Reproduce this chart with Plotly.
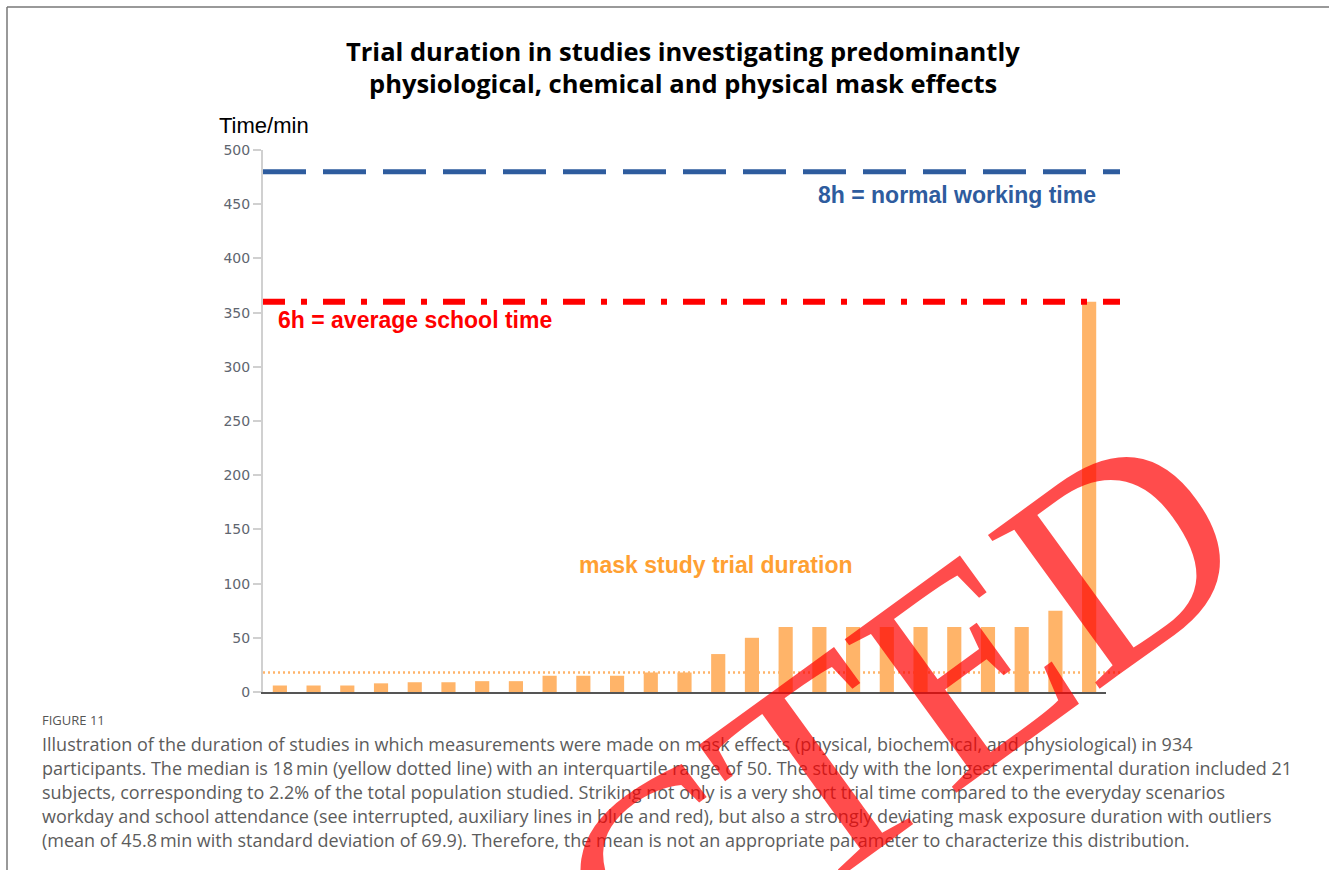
import numpy as np
import plotly.graph_objects as go

# Trial durations (minutes) of the individual studies, sorted ascending
studies = [f"S{i}" for i in range(1, 26)]
durations = [6, 6, 6, 8, 9, 9, 10, 10, 15, 15, 15, 18, 18, 35, 50,
             60, 60, 60, 60, 60, 60, 60, 60, 75, 360]

# Reference durations (minutes)
work_day = 8 * 60
school_day = 6 * 60
median_duration = float(np.median(durations))

title_lines = ["Trial duration in studies investigating predominantly",
               "physiological, chemical and physical mask effects"]
caption_head = "FIGURE 11"
caption_lines = [
    "Illustration of the duration of studies in which measurements were made on mask effects (physical, biochemical, and physiological) in 934",
    "participants. The median is 18\u2009min (yellow dotted line) with an interquartile range of 50. The study with the longest experimental duration included 21",
    "subjects, corresponding to 2.2% of the total population studied. Striking not only is a very short trial time compared to the everyday scenarios",
    "workday and school attendance (see interrupted, auxiliary lines in blue and red), but also a strongly deviating mask exposure duration with outliers",
    "(mean of 45.8\u2009min with standard deviation of 69.9). Therefore, the mean is not an appropriate parameter to characterize this distribution.",
]

FIG_W, FIG_H = 1329, 870
L, R, T, B = 263, 1106, 150, 692
PW, PH = R - L, B - T


def fx(px):
    return (px - L) / PW


def fy(py):
    return (B - py) / PH


BAR = "rgb(255,180,105)"
ORANGE_TXT = "rgb(255,160,50)"
BLUE = "rgb(46,92,158)"
RED = "rgb(255,0,0)"

fig = go.Figure()
fig.add_trace(go.Bar(x=studies, y=durations, marker=dict(color=BAR, line=dict(width=0)),
                     hoverinfo="x+y", showlegend=False))

shapes = [
    # 8h working day
    dict(type="line", xref="paper", yref="y", x0=0, x1=fx(1120), y0=work_day, y1=work_day,
         line=dict(color=BLUE, width=5, dash="43px,17px"), layer="above"),
    # 6h school day
    dict(type="line", xref="paper", yref="y", x0=0, x1=fx(1120), y0=school_day, y1=school_day,
         line=dict(color=RED, width=6, dash="22px,16px,6px,16px"), layer="above"),
    # median
    dict(type="line", xref="paper", yref="y", x0=0, x1=fx(1120), y0=median_duration, y1=median_duration,
         line=dict(color=BAR, width=2.5, dash="2px,3px"), layer="above"),
    # page frame
    dict(type="line", xref="paper", yref="paper", x0=fx(7), x1=fx(1335), y0=fy(7), y1=fy(7),
         line=dict(color="#777", width=1.5)),
    dict(type="line", xref="paper", yref="paper", x0=fx(7), x1=fx(7), y0=fy(7), y1=fy(880),
         line=dict(color="#777", width=1.5)),
]

annotations = []
for i, line in enumerate(title_lines):
    annotations.append(dict(text="<b>" + line + "</b>", xref="paper", yref="paper",
                            x=fx(683), y=fy(51 + 32 * i), xanchor="center", yanchor="middle",
                            showarrow=False, font=dict(family="Open Sans", size=25.5, color="#000")))
annotations += [
    dict(text="Time/min", xref="paper", yref="paper", x=fx(217), y=fy(126),
         xanchor="left", yanchor="middle", showarrow=False,
         font=dict(family="Liberation Sans", size=22, color="#000")),
    dict(text="<b>8h = normal working time</b>", xref="paper", yref="paper", x=fx(957), y=fy(195),
         xanchor="center", yanchor="middle", showarrow=False,
         font=dict(family="Liberation Sans", size=23, color=BLUE)),
    dict(text="<b>6h = average school time</b>", xref="paper", yref="paper", x=fx(415), y=fy(320),
         xanchor="center", yanchor="middle", showarrow=False,
         font=dict(family="Liberation Sans", size=23, color=RED)),
    dict(text="<b>mask study trial duration</b>", xref="paper", yref="paper", x=fx(716), y=fy(565),
         xanchor="center", yanchor="middle", showarrow=False,
         font=dict(family="Liberation Sans", size=23, color=ORANGE_TXT)),
    dict(text=caption_head, xref="paper", yref="paper", x=fx(40), y=fy(720),
         xanchor="left", yanchor="middle", showarrow=False,
         font=dict(family="Open Sans", size=13, color="#555")),
]
for i, line in enumerate(caption_lines):
    annotations.append(dict(text=line, xref="paper", yref="paper", x=fx(40), y=fy(744 + 24 * i),
                            xanchor="left", yanchor="middle", showarrow=False,
                            font=dict(family="Open Sans", size=18, color="#5c5c5c")))

# Retraction stamp across the lower right
annotations.append(dict(text="RETRACTED", xref="paper", yref="paper", x=fx(514), y=fy(993),
                        xanchor="center", yanchor="middle", showarrow=False, textangle=-36,
                        font=dict(family="Liberation Serif", size=290, color="rgba(255,0,0,0.7)")))

fig.update_layout(
    width=FIG_W, height=FIG_H,
    margin=dict(l=L, r=FIG_W - R, t=T, b=FIG_H - B, pad=0),
    paper_bgcolor="white", plot_bgcolor="white",
    bargap=0.58,
    shapes=shapes, annotations=annotations,
    xaxis=dict(showticklabels=False, ticks="", showgrid=False, zeroline=False,
               showline=True, linecolor="#555", linewidth=2, range=[-0.5, 24.5]),
    yaxis=dict(range=[0, 500], tickvals=[0, 50, 100, 150, 200, 250, 300, 350, 400, 450, 500],
               showgrid=False, zeroline=False, showline=True, linecolor="#d0d0d0", linewidth=2,
               ticks="outside", ticklen=8, tickcolor="#d0d0d0", tickwidth=1.5,
               tickfont=dict(family="DejaVu Sans", size=14, color="#5f6670")),
)

fig.write_html("out.html")
